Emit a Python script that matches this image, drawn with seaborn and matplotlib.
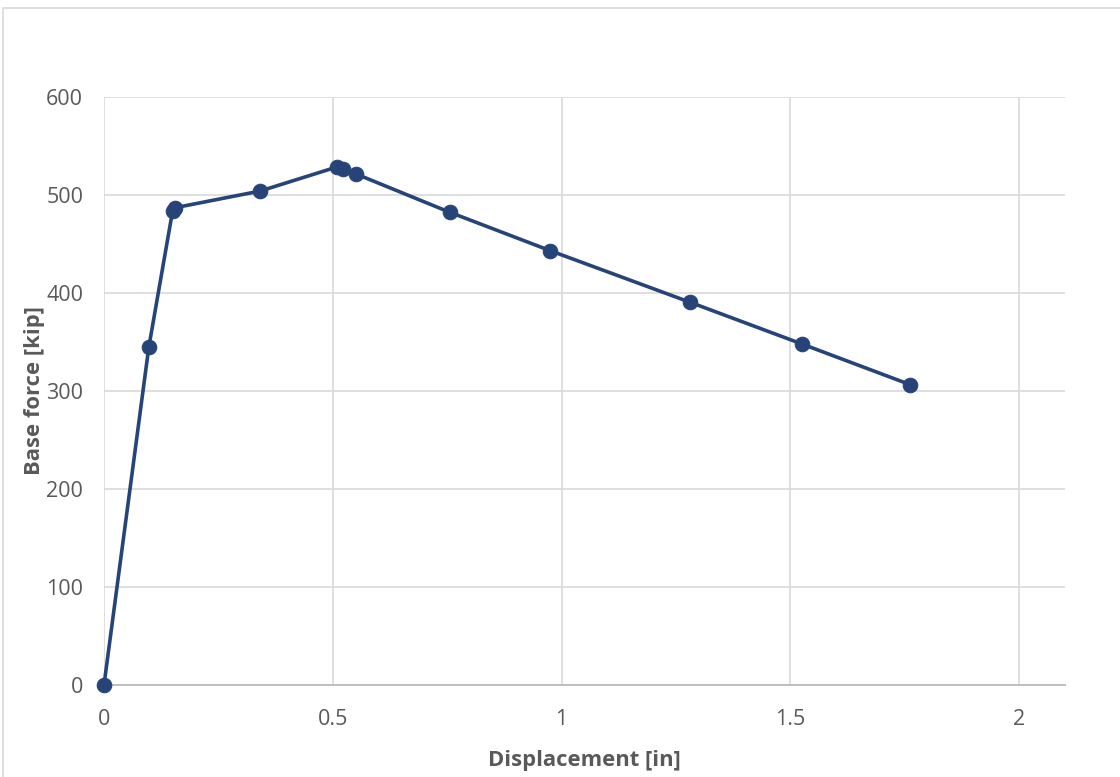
import matplotlib
matplotlib.use("Agg")
import matplotlib.pyplot as plt
import matplotlib.patches as mpatches
import pandas as pd
import seaborn as sns

# Pushover curve: base force vs. roof displacement
displacement_in = [0.0, 0.098, 0.150, 0.155, 0.341, 0.509, 0.522, 0.551,
                   0.756, 0.975, 1.281, 1.525, 1.762]
base_force_kip = [0.0, 345.0, 484.0, 487.0, 504.0, 528.6, 526.5, 521.4,
                  482.3, 443.2, 390.5, 348.0, 306.4]

x_ticks = [0, 0.5, 1, 1.5, 2]
x_tick_labels = ["0", "0.5", "1", "1.5", "2"]
y_ticks = [0, 100, 200, 300, 400, 500, 600]

df = pd.DataFrame({"Displacement [in]": displacement_in,
                   "Base force [kip]": base_force_kip})

sns.set_theme(style="white")
plt.rcParams["font.family"] = ["Open Sans", "DejaVu Sans"]

W, H = 1120, 777
fig = plt.figure(figsize=(W / 100, H / 100), dpi=100)
fig.patch.set_facecolor("white")

# outer chart-area frame
fig.patches.append(mpatches.Rectangle((3 / W, -0.05), 1.2, 1 - 8 / H + 0.05,
                                      transform=fig.transFigure, fill=False,
                                      edgecolor="#d9d9d9", linewidth=1.2))

left, right, top, bottom = 104, 1065, 97, 685
ax = fig.add_axes([left / W, 1 - bottom / H, (right - left) / W, (bottom - top) / H])

line_color = "#264478"
sns.lineplot(data=df, x="Displacement [in]", y="Base force [kip]", sort=False,
             ax=ax, color=line_color, linewidth=2.6, marker="o",
             markersize=10.5, markeredgecolor=line_color, estimator=None,
             zorder=5, clip_on=False)

ax.set_xlim(0, 2.1)
ax.set_ylim(0, 600)
ax.set_xticks(x_ticks)
ax.set_xticklabels(x_tick_labels)
ax.set_yticks(y_ticks)

ax.grid(True, color="#d9d9d9", linewidth=1.2)
ax.set_axisbelow(True)
for side in ["top", "right", "left"]:
    ax.spines[side].set_visible(False)
ax.spines["bottom"].set_color("#bfbfbf")
ax.spines["bottom"].set_linewidth(1.4)
ax.spines["bottom"].set_zorder(3)

ax.tick_params(axis="both", length=0, labelsize=15.5, labelcolor="#595959")
ax.tick_params(axis="x", pad=17)
ax.tick_params(axis="y", pad=15)

ax.set_xlabel("Displacement [in]", fontsize=15.8, fontweight="bold",
              color="#595959", labelpad=15)
ax.set_ylabel("Base force [kip]", fontsize=15.8, fontweight="bold",
              color="#595959", labelpad=1)

fig.savefig("out.png", dpi=100, facecolor="white")
